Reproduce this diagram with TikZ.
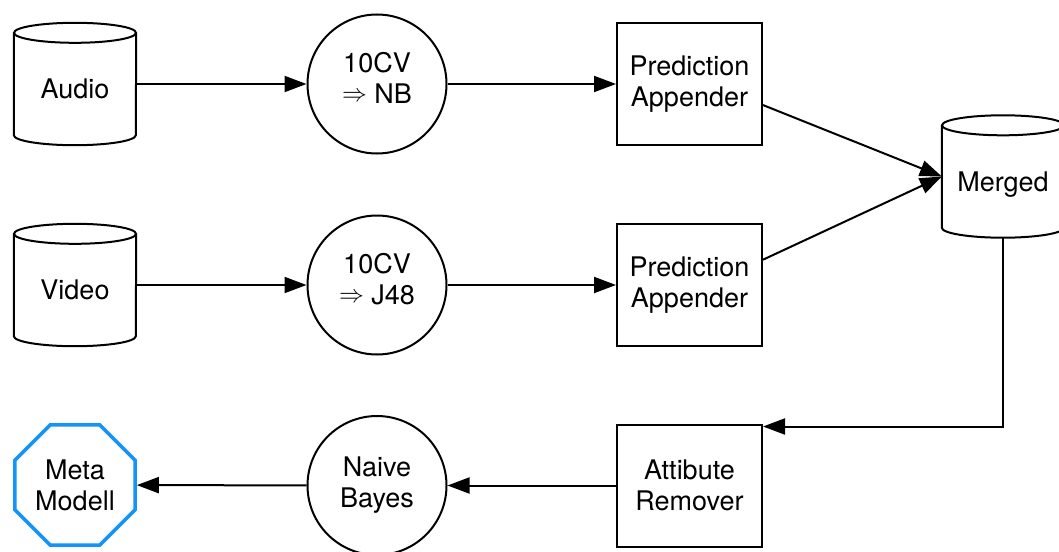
\documentclass[tikz,border=0pt]{standalone}
\usepackage{fontspec}
\setmainfont{TeX Gyre Heros}
\usetikzlibrary{arrows.meta,shapes.geometric}
\definecolor{metablue}{RGB}{20,148,250}
\newcommand{\impl}{{\fontsize{23pt}{23pt}\selectfont\raisebox{1.5pt}{$\Rightarrow$}}}
\newcommand{\lowstrut}{\rule[-13pt]{0pt}{13pt}}
\begin{document}
\begin{tikzpicture}[x=1pt,y=1pt,
  every node/.style={font=\fontsize{27pt}{31pt}\selectfont, inner sep=0pt},
  db/.style={rectangle, minimum width=122pt, minimum height=122pt,
             text height=31pt, text depth=1.6pt},
  cyl/.style={draw, line width=2pt},
  proc/.style={circle, draw, line width=2pt, minimum size=139pt, align=center},
  stepbox/.style={rectangle, draw, line width=2pt, minimum width=145pt,
                  minimum height=122pt, align=center},
  goal/.style={regular polygon, regular polygon sides=8, draw=metablue,
               line width=3.5pt, minimum size=130pt, align=center},
  arr/.style={line width=2pt, -{Triangle[length=22pt,width=16pt]}}]
\useasboundingbox (0,0) rectangle (1059,-551);

% data sources and merged data set
\node[db] (audio)  at (75,-84)     {Audio};
\node[db] (video)  at (75,-285)    {Video};
\node[db] (merged) at (1003,-176.5) {Merged};
\foreach \n in {audio,video,merged}{
  \draw[cyl] ([yshift=-10pt]\n.north) ellipse [x radius=61pt, y radius=10pt];
  \draw[cyl] ([yshift=-10pt]\n.north west) -- ([yshift=10pt]\n.south west)
    arc[start angle=180, end angle=360, x radius=61pt, y radius=10pt]
    -- ([yshift=-10pt]\n.north east);
}

% learners
\node[proc] (nb)    at (377,-84)    {10CV\\\impl{} NB\lowstrut};
\node[proc] (j48)   at (377,-285)   {10CV\\\impl{} J48\lowstrut};
\node[proc] (bayes) at (377,-485.5) {Naive\\Bayes};

% processing steps
\node[stepbox] (app1) at (689.5,-84)    {Prediction\\Appender};
\node[stepbox] (app2) at (689.5,-285)   {Prediction\\Appender};
\node[stepbox] (rem)  at (689.5,-485.5) {Attibute\\Remover};

% result
\node[goal] (meta) at (75,-485) {Meta\\Modell};

% flow
\draw[arr] (audio) -- (nb);
\draw[arr] (nb) -- (app1);
\draw[arr] (video) -- (j48);
\draw[arr] (j48) -- (app2);
\draw[arr] (app1.-16.4) -- (merged.west);
\draw[arr] (app2.19.1) -- (merged.west);
\coordinate (remin) at ([yshift=-3pt]rem.north east);
\draw[arr] (merged.south) |- (remin);
\draw[arr] (rem) -- (bayes);
\draw[arr] (bayes) -- (meta);
\end{tikzpicture}
\end{document}
